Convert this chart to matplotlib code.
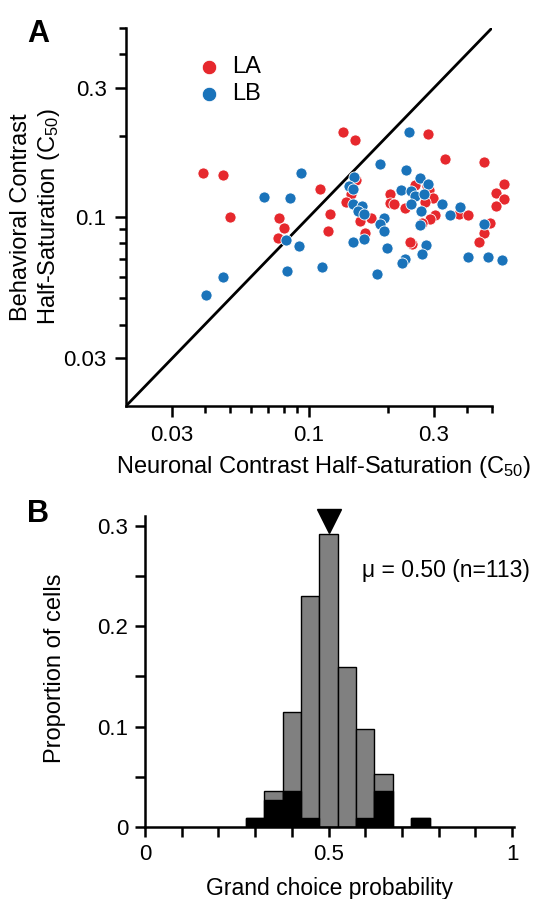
import numpy as np
import matplotlib.pyplot as plt
from matplotlib.ticker import FixedLocator, NullFormatter, FixedFormatter

plt.rcParams['font.family'] = ['Liberation Sans', 'DejaVu Sans']
plt.rcParams['mathtext.fontset'] = 'custom'
plt.rcParams['mathtext.rm'] = 'Liberation Sans'
plt.rcParams['mathtext.it'] = 'Liberation Sans:italic'

## Panel A data: C50 values (neuronal vs behavioral) for the two monkeys
la_neuron = [0.0393, 0.0468, 0.0501, 0.0769, 0.0801, 0.0764, 0.110, 0.135, 0.150, 0.286,
             0.331, 0.468, 0.151, 0.145, 0.139, 0.120, 0.118, 0.156, 0.164, 0.173,
             0.204, 0.203, 0.212, 0.233, 0.247, 0.244, 0.253, 0.282, 0.288, 0.297,
             0.278, 0.303, 0.291, 0.271, 0.375, 0.405, 0.556, 0.516, 0.556, 0.516,
             0.491, 0.464, 0.446]
la_behav = [0.146, 0.143, 0.100, 0.0994, 0.0912, 0.0833, 0.127, 0.206, 0.193, 0.202,
            0.164, 0.160, 0.137, 0.122, 0.114, 0.103, 0.0887, 0.0966, 0.0874, 0.0994,
            0.122, 0.113, 0.112, 0.108, 0.0795, 0.0805, 0.131, 0.130, 0.126, 0.118,
            0.114, 0.102, 0.0983, 0.0954, 0.103, 0.102, 0.132, 0.123, 0.117, 0.110,
            0.0950, 0.0872, 0.0809]
lb_neuron = [0.0405, 0.0468, 0.0674, 0.0849, 0.0820, 0.0919, 0.0827, 0.0936, 0.112, 0.240,
             0.186, 0.234, 0.149, 0.142, 0.147, 0.265, 0.286, 0.225, 0.245, 0.255,
             0.275, 0.245, 0.321, 0.378, 0.347, 0.267, 0.265, 0.147, 0.160, 0.154,
             0.162, 0.193, 0.187, 0.193, 0.162, 0.147, 0.199, 0.280, 0.270, 0.232,
             0.227, 0.182, 0.468, 0.405, 0.481, 0.547]
lb_behav = [0.0513, 0.0602, 0.119, 0.118, 0.0823, 0.0784, 0.0633, 0.145, 0.0651, 0.206,
            0.157, 0.149, 0.140, 0.130, 0.127, 0.139, 0.132, 0.126, 0.125, 0.120,
            0.122, 0.112, 0.112, 0.109, 0.102, 0.105, 0.0932, 0.112, 0.110, 0.105,
            0.103, 0.0994, 0.0939, 0.0887, 0.0831, 0.0809, 0.0771, 0.0785, 0.0728, 0.0701,
            0.0674, 0.0614, 0.0939, 0.0714, 0.0714, 0.0694]

## Panel B data: grand choice probability histogram
cp_bins = [0.30, 0.35, 0.40, 0.45, 0.50, 0.55, 0.60, 0.65, 0.70, 0.75]
cp_all = [1, 4, 13, 26, 33, 18, 11, 6, 0, 1]
cp_sig = [1, 3, 4, 1, 0, 0, 1, 4, 0, 1]
n_cells = 113
cp_mean = 0.50

red = '#e6282d'
blue = '#1a73ba'
spine_w = 1.8

fig = plt.figure(figsize=(5.38, 8.99), dpi=100)

##Panel A
axA = fig.add_axes([0.2342, 0.5484, 0.6803, 0.4205])
axA.set_xscale('log')
axA.set_yscale('log')
axA.plot([0.02, 0.5], [0.02, 0.5], color='black', lw=2, zorder=1)
axA.scatter(la_neuron, la_behav, s=64, c=red, edgecolors='white', linewidths=0.6,
            clip_on=False, zorder=3, label='LA')
axA.scatter(lb_neuron, lb_behav, s=64, c=blue, edgecolors='white', linewidths=0.6,
            clip_on=False, zorder=3, label='LB')
axA.set_xlim(0.02, 0.5)
axA.set_ylim(0.02, 0.5)
for sp in ['top', 'right']:
    axA.spines[sp].set_visible(False)
for sp in ['left', 'bottom']:
    axA.spines[sp].set_linewidth(spine_w)
major = [0.03, 0.1, 0.3]
minor = [0.04, 0.05, 0.06, 0.07, 0.08, 0.09, 0.2, 0.4, 0.5]
for axis in [axA.xaxis, axA.yaxis]:
    axis.set_major_locator(FixedLocator(major))
    axis.set_major_formatter(FixedFormatter(['0.03', '0.1', '0.3']))
    axis.set_minor_locator(FixedLocator(minor))
    axis.set_minor_formatter(NullFormatter())
axA.tick_params(which='major', length=8, width=spine_w, labelsize=16, pad=6)
axA.tick_params(which='minor', length=5, width=spine_w)
axA.set_xlabel('Neuronal Contrast Half-Saturation (C$_{50}$)', fontsize=17)
axA.xaxis.set_label_coords(0.54, -0.128)
axA.set_ylabel('Behavioral Contrast\nHalf-Saturation (C$_{50}$)', fontsize=17)
axA.yaxis.set_label_coords(-0.175, 0.5)
axA.legend(loc='upper left', bbox_to_anchor=(0.168, 0.95), frameon=False, fontsize=17,
           handlelength=1.0, handletextpad=0.5, labelspacing=0.2, scatterpoints=1,
           markerscale=1.3, borderaxespad=0)
fig.text(0.05, 0.962, 'A', fontsize=22, fontweight='bold', ha='left', va='center')

##Panel B
axB = fig.add_axes([0.2695, 0.0801, 0.6859, 0.346])
prop_all = np.array(cp_all) / n_cells
prop_sig = np.array(cp_sig) / n_cells
axB.bar(cp_bins, prop_all, width=0.05, color='#808080', edgecolor='black', linewidth=1, zorder=2)
axB.bar(cp_bins, prop_sig, width=0.05, color='black', edgecolor='black', linewidth=1, zorder=3)
axB.plot([cp_mean], [0.3045], marker='v', ms=17, color='black', clip_on=False, zorder=4)
axB.text(0.59, 0.256, '\u03bc = 0.50 (n=113)', fontsize=16.5, ha='left', va='center')
axB.set_xlim(0, 1.005)
axB.set_ylim(0, 0.31)
for sp in ['top', 'right']:
    axB.spines[sp].set_visible(False)
for sp in ['left', 'bottom']:
    axB.spines[sp].set_linewidth(spine_w)
axB.set_xticks([0, 0.5, 1])
axB.set_xticklabels(['0', '0.5', '1'])
axB.set_xticks(np.arange(0, 1.01, 0.1), minor=True)
axB.set_yticks([0, 0.1, 0.2, 0.3])
axB.set_yticklabels(['0', '0.1', '0.2', '0.3'])
axB.set_yticks(np.arange(0, 0.31, 0.05), minor=True)
axB.tick_params(which='both', length=7, width=spine_w, labelsize=16, pad=5)
axB.set_xlabel('Grand choice probability', fontsize=16.5, labelpad=9)
axB.set_ylabel('Proportion of cells', fontsize=17)
axB.yaxis.set_label_coords(-0.215, 0.51)
fig.text(0.05, 0.428, 'B', fontsize=22, fontweight='bold', ha='left', va='center')

plt.savefig('out.png', dpi=100)
